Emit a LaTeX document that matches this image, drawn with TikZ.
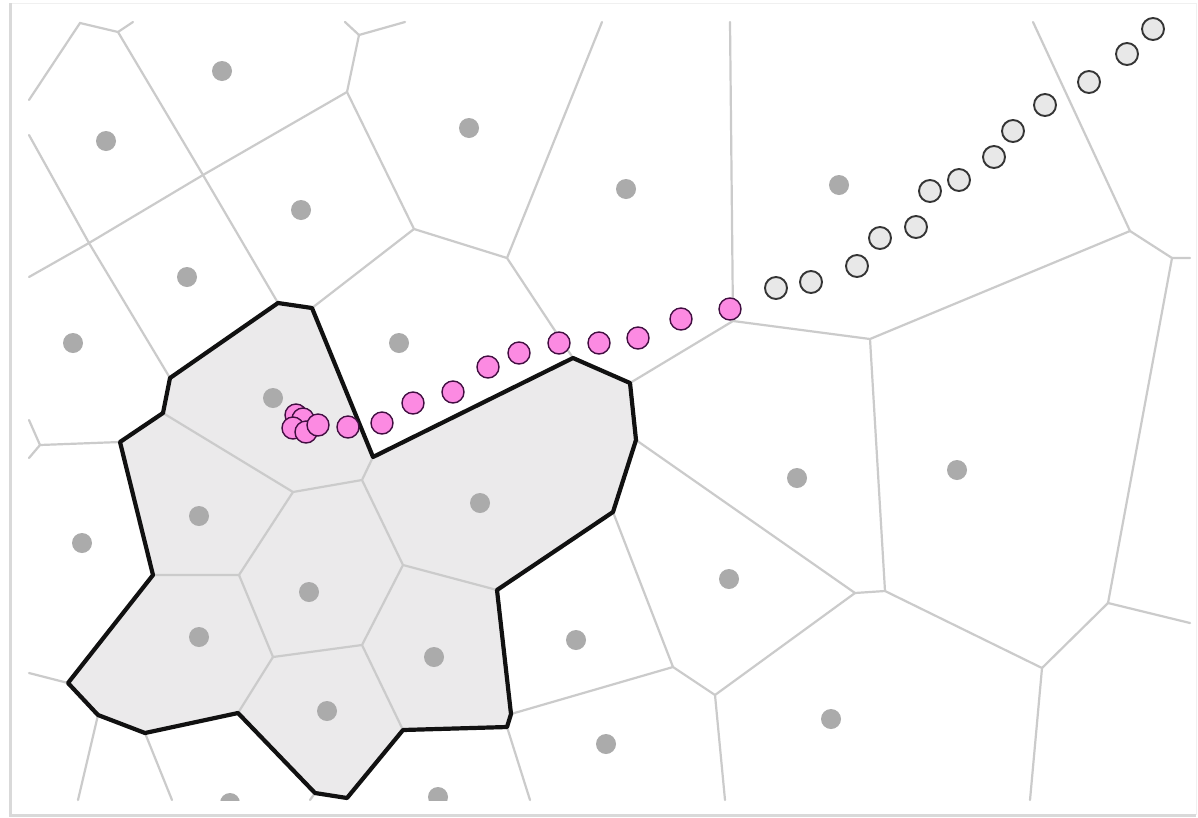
\documentclass[tikz,border=0pt]{standalone}
\usetikzlibrary{positioning,calc}
\definecolor{ink}{HTML}{111111}
\definecolor{wallc}{HTML}{CBCBCB}
\definecolor{sitec}{HTML}{ABABAB}
\definecolor{regc}{HTML}{EBEAEB}
\definecolor{pinkc}{HTML}{FC8AE2}
\definecolor{ghostc}{HTML}{E8E8E8}
\tikzset{wall/.style={draw=wallc,line width=2.2pt,line cap=round},
  rim/.style={draw=ink,line width=4.2pt,line join=round},
  site/.style={circle,fill=sitec,inner sep=0pt,minimum size=20pt},
  hit/.style={circle,draw=ink!80!magenta,fill=pinkc,line width=1.4pt,inner sep=0pt,minimum size=22pt},
  miss/.style={circle,draw=ink!85,fill=ghostc,line width=1.9pt,inner sep=0pt,minimum size=22pt}}

\begin{document}
\begin{tikzpicture}[x=1pt,y=-1pt]
\useasboundingbox (0,0) rectangle (1198,817);
% card frame
\fill[white] (10,3) rectangle (1196,815);
\draw[gray!12,line width=1pt] (10,3) -- (1196,3) -- (1196,815);
\draw[gray!30,line width=3pt] (10,3) -- (10,815) -- (1196,815);
% selected region
\fill[regc] (278,303) -- (312,308) -- (373,457) -- (573,358) -- (630,383) -- (636,440)
  -- (613,512) -- (497,590) -- (511,714) -- (507,727) -- (403,730) -- (347,798)
  -- (315,793) -- (238,713) -- (145,733) -- (98,715) -- (68,683) -- (153,575)
  -- (120,442) -- (163,413) -- (170,378) -- cycle;
% cell walls
\draw[wall] (29,100) -- (80,23) -- (118,32) -- (133,22);
\draw[wall] (118,32) -- (203,175) -- (347,92) -- (359,35) -- (345,22);
\draw[wall] (359,35) -- (405,22);
\draw[wall] (203,175) -- (89,243) -- (29,135);
\draw[wall] (89,243) -- (29,277);
\draw[wall] (89,243) -- (170,378);
\draw[wall] (203,175) -- (278,303);
\draw[wall] (347,92) -- (414,229) -- (312,308);
\draw[wall] (414,229) -- (507,258) -- (602,22);
\draw[wall] (507,258) -- (573,358);
\draw[wall] (630,383) -- (733,321) -- (730,22);
\draw[wall] (733,321) -- (870,339) -- (1130,231) -- (1033,22);
\draw[wall] (1130,231) -- (1172,258) -- (1190,258);
\draw[wall] (1172,258) -- (1108,603) -- (1190,623);
\draw[wall] (1108,603) -- (1042,668) -- (1030,800);
\draw[wall] (1042,668) -- (885,591) -- (870,339);
\draw[wall] (885,591) -- (855,593) -- (636,440);
\draw[wall] (855,593) -- (715,695) -- (725,800);
\draw[wall] (715,695) -- (673,667) -- (613,512);
\draw[wall] (673,667) -- (511,714);
\draw[wall] (507,727) -- (530,800);
\draw[wall] (29,420) -- (40,445) -- (29,458);
\draw[wall] (40,445) -- (120,442);
\draw[wall] (68,683) -- (29,673);
\draw[wall] (98,715) -- (78,800);
\draw[wall] (145,733) -- (172,800);
\draw[wall] (315,793) -- (310,800);
% walls inside the region
\draw[wall] (163,413) -- (293,492) -- (362,480) -- (373,457);
\draw[wall] (293,492) -- (239,575) -- (153,575);
\draw[wall] (239,575) -- (273,657) -- (238,713);
\draw[wall] (273,657) -- (362,645) -- (403,565) -- (362,480);
\draw[wall] (403,565) -- (497,590);
\draw[wall] (362,645) -- (403,730);
% sites
\foreach \x/\y [count=\i] in {222/71,106/141,301/210,187/277,469/128,626/189,839/185,
  73/343,399/343,273/398,199/516,82/543,480/503,797/478,957/470,309/592,199/637,
  327/711,434/657,576/640,729/579,606/744,831/719}
  \node[site] (s\i) at (\x,\y) {};
\begin{scope}
\clip (29,22) rectangle (1190,800);
\node[site] (s24) at (230,803) {};
\node[site] (s25) at (438,797) {};
\end{scope}
% region boundary
\draw[rim] (278,303) -- (312,308) -- (373,457) -- (573,358) -- (630,383) -- (636,440)
  -- (613,512) -- (497,590) -- (511,714) -- (507,727) -- (403,730) -- (347,798)
  -- (315,793) -- (238,713) -- (145,733) -- (98,715) -- (68,683) -- (153,575)
  -- (120,442) -- (163,413) -- (170,378) -- cycle;
% track outside the region
\foreach \x/\y [count=\i] in {1153/29,1127/54,1089/82,1045/105,1013/131,994/157,
  959/180,930/191,916/227,880/238,857/266,811/282,776/288}
  \node[miss] (m\i) at (\x,\y) {};
% track reaching the region
\foreach \x/\y [count=\i] in {730/309,681/319,638/338,599/343,559/343,519/353,
  488/367,453/392,413/403,382/423,348/427,296/415,303/419,293/428,306/432,318/425}
  \node[hit] (h\i) at (\x,\y) {};
\end{tikzpicture}
\end{document}
